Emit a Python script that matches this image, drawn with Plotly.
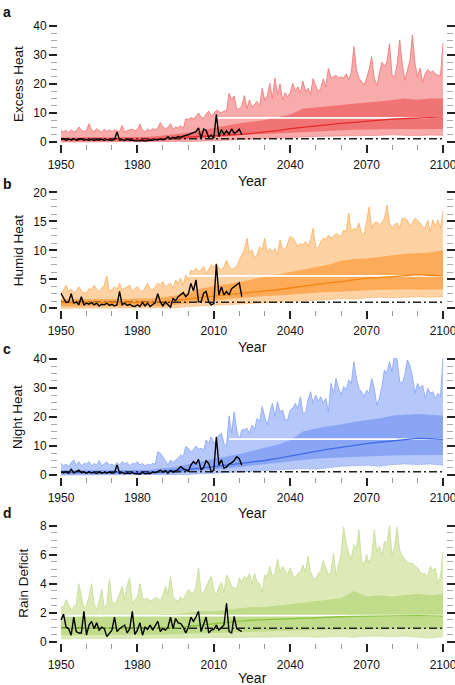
import plotly.graph_objects as go

# ---------------- data ----------------
YEARS = list(range(1950, 2101))
Y5 = list(range(1950, 2101, 5))
OBS_YEARS = list(range(1950, 2022))
XTICKS = [1950, 1980, 2010, 2040, 2070, 2100]

# Panel a : Excess Heat
A_HI = [3.8, 3.5, 4.0, 3.2, 4.2, 3.5, 3.8, 5.2, 4.0, 3.6,
        4.0, 6.3, 4.2, 3.5, 4.6, 3.8, 3.3, 4.5, 3.6, 4.2,
        3.5, 4.3, 3.8, 3.6, 5.7, 3.4, 4.0, 4.2, 4.4, 3.9,
        4.3, 6.1, 4.0, 3.6, 4.5, 3.8, 4.6, 4.2, 4.8, 6.7,
        5.2, 4.6, 5.0, 6.3, 4.4, 5.2, 4.8, 5.7, 4.6, 8.0,
        7.8, 8.4, 8.0, 8.8, 10.0, 8.6, 8.2, 9.6, 10.7, 9.0,
        9.8, 11.0, 10.4, 10.0, 10.8, 10.6, 16.8, 14.5, 15.9, 11.3,
        11.5, 12.5, 16.0, 11.5, 14.5, 12.0, 13.0, 14.0, 12.5, 18.5,
        14.4, 16.0, 20.2, 15.0, 22.0, 16.5, 20.0, 14.5, 17.0, 15.5,
        17.0, 20.2, 17.5, 19.0, 17.0, 21.0, 17.5, 18.5, 16.5, 21.9,
        19.5, 17.3, 18.5, 21.8, 19.0, 25.4, 22.0, 22.5, 23.0, 22.0,
        22.5, 22.0, 23.5, 21.5, 24.0, 32.9, 25.0, 22.0, 21.0, 19.7,
        22.0, 25.0, 29.4, 22.0, 19.5, 23.0, 27.5, 26.0, 27.7, 33.9,
        23.0, 22.4, 27.0, 35.2, 27.0, 21.3, 25.0, 28.0, 36.9, 27.0,
        22.4, 25.5, 20.5, 23.5, 25.0, 24.0, 24.5, 23.5, 23.0, 22.8,
        34.0]
A_Q75 = [1.6, 1.5, 1.7, 1.6, 1.6, 1.7, 1.8, 1.8, 2.2, 2.6, 3.2, 4.0, 4.8, 5.8, 6.5, 7.0,
         7.6, 8.5, 9.5, 11.5, 12.0, 12.5, 12.8, 13.2, 13.5, 14.0, 14.5, 15.0, 14.6, 15.0, 15.0]
A_Q25 = [0.2, 0.2, 0.2, 0.2, 0.2, 0.3, 0.3, 0.3, 0.5, 0.7, 1.0, 1.3, 1.6, 2.0, 2.3, 2.6,
         2.8, 3.0, 3.2, 3.5, 3.8, 4.0, 4.0, 4.2, 4.3, 4.4, 4.5, 4.5, 4.4, 4.5, 4.5]
A_LO = [0.0, 0.0, 0.0, 0.0, 0.0, 0.0, 0.0, 0.0, 0.0, 0.1, 0.2, 0.3, 0.5, 0.7, 0.8, 1.0,
        1.2, 1.4, 1.5, 1.8, 1.9, 2.0, 2.0, 2.2, 2.2, 2.3, 2.5, 2.3, 2.2, 2.4, 2.3]
A_MED = [0.9, 0.9, 0.9, 0.9, 0.9, 1.0, 1.0, 1.0, 1.2, 1.4, 1.6, 1.8, 2.0, 2.3, 2.6, 3.0,
         3.4, 3.9, 4.6, 5.1, 5.6, 6.0, 6.4, 6.8, 7.2, 7.5, 7.9, 8.1, 8.3, 8.4, 8.2]
A_OBS = [0.9, 1.1, 0.6, 1.0, 0.7, 1.2, 0.6, 0.9, 1.1, 0.5,
         0.9, 0.6, 1.0, 0.5, 0.8, 0.6, 1.0, 0.5, 0.9, 0.7,
         0.6, 0.9, 3.5, 0.6, 0.8, 0.5, 0.9, 0.6, 0.7, 0.4,
         0.3, 0.4, 0.6, 0.3, 0.5, 0.7, 0.6, 0.9, 0.7, 1.1,
         0.8, 1.0, 1.8, 1.0, 1.6, 1.4, 1.9, 1.6, 2.0, 2.2,
         2.5, 2.9, 3.2, 3.6, 4.9, 1.2, 4.5, 4.0, 1.6, 2.4,
         1.3, 9.5, 1.8, 4.3, 2.6, 3.8, 2.7, 4.5, 3.0, 3.5, 4.4, 2.5]
A_BASE = 1.1
A_WHITE = 8.3
A_WHITE_START = 2011

# Panel b : Humid Heat
B_HI = [2.3, 3.2, 4.0, 2.9, 3.3, 2.6, 3.0, 3.7, 3.0, 2.7,
        2.6, 3.4, 3.2, 4.0, 3.3, 2.9, 3.4, 4.0, 5.6, 2.9,
        3.2, 3.7, 3.3, 4.3, 3.2, 3.4, 3.7, 4.0, 2.9, 3.4,
        3.7, 3.0, 2.9, 3.6, 4.3, 3.3, 3.2, 3.7, 4.3, 4.0,
        4.6, 3.7, 4.0, 4.3, 3.4, 4.9, 4.3, 5.2, 4.0, 5.7,
        4.9, 6.6, 6.3, 6.9, 6.3, 6.6, 7.2, 6.0, 6.7, 7.5,
        7.1, 7.8, 6.9, 6.6, 7.2, 8.3, 7.2, 6.7, 6.9, 7.3,
        8.3, 9.2, 10.1, 12.1, 9.5, 10.1, 8.6, 9.2, 10.6, 10.1,
        12.1, 9.5, 10.3, 9.8, 10.3, 9.2, 11.8, 10.3, 10.1, 11.2,
        12.4, 12.1, 11.5, 10.6, 11.2, 10.9, 11.5, 10.6, 11.8, 13.8,
        10.6, 10.3, 11.5, 12.1, 11.8, 12.6, 12.1, 12.4, 12.9, 12.6,
        12.4, 13.5, 13.2, 16.4, 13.2, 13.8, 13.5, 14.7, 12.9, 12.6,
        15.2, 17.5, 13.8, 14.7, 14.9, 14.4, 14.9, 15.5, 17.8, 14.7,
        13.8, 14.4, 14.7, 13.8, 15.5, 15.5, 15.2, 14.1, 14.7, 15.5,
        15.2, 14.7, 14.1, 13.8, 15.2, 13.2, 15.2, 14.1, 15.2, 13.8,
        16.7]
B_Q75 = [1.6, 1.6, 1.5, 1.5, 1.6, 1.6, 1.7, 1.7, 1.9, 2.2, 2.7, 3.4, 3.8, 4.1, 4.5, 5.0,
         5.4, 5.8, 6.2, 6.6, 7.0, 7.5, 8.2, 8.5, 8.6, 8.9, 9.2, 9.4, 9.5, 9.6, 10.0]
B_Q25 = [0.3, 0.3, 0.3, 0.3, 0.3, 0.3, 0.3, 0.3, 0.4, 0.6, 0.8, 1.1, 1.3, 1.6, 1.8, 2.0,
         2.1, 2.2, 2.3, 2.5, 2.7, 2.8, 3.0, 3.0, 3.1, 3.2, 3.2, 3.3, 3.2, 3.3, 3.3]
B_LO = [0.0, 0.0, 0.0, 0.0, 0.0, 0.0, 0.0, 0.0, 0.05, 0.1, 0.3, 0.4, 0.6, 0.7, 0.8, 0.9,
        1.0, 1.0, 1.1, 1.2, 1.3, 1.5, 1.7, 1.6, 1.8, 1.9, 1.8, 1.9, 2.0, 1.9, 2.0]
B_MED = [1.0, 1.0, 0.9, 0.9, 1.0, 1.0, 1.0, 1.0, 1.1, 1.3, 1.6, 1.9, 2.1, 2.4, 2.6, 2.8,
         3.0, 3.2, 3.5, 3.8, 4.2, 4.4, 4.6, 4.9, 5.2, 5.3, 5.5, 5.6, 5.8, 5.7, 5.6]
B_OBS = [2.6, 1.7, 1.0, 1.1, 2.5, 0.9, 1.1, 0.6, 2.0, 0.6,
         0.9, 0.7, 1.0, 0.6, 0.9, 0.4, 0.7, 0.6, 0.9, 0.5,
         0.7, 0.4, 0.6, 2.9, 0.6, 0.9, 0.5, 0.7, 0.4, 0.3,
         0.6, 0.3, 1.0, 0.4, 0.9, 0.3, 0.7, 1.0, 2.5, 1.1,
         0.4, 1.1, 0.6, 0.2, 1.7, 1.3, 2.0, 2.3, 2.7, 2.0,
         2.5, 4.3, 3.0, 4.9, 1.1, 1.1, 2.6, 2.9, 1.1, 0.6,
         0.8, 7.6, 2.3, 3.7, 2.3, 2.9, 2.3, 3.4, 3.7, 4.0, 4.4, 2.0]
B_BASE = 1.05
B_WHITE = 5.6
B_WHITE_START = 2000

# Panel c : Night Heat
C_HI = [4.0, 3.1, 3.8, 2.9, 4.3, 5.2, 3.4, 4.6, 3.1, 4.0,
        3.8, 4.6, 3.1, 4.0, 3.4, 4.9, 3.1, 4.0, 4.6, 3.4,
        3.8, 3.1, 4.3, 3.4, 4.6, 3.8, 4.3, 3.1, 4.0, 3.8,
        4.6, 3.4, 4.0, 3.1, 3.8, 3.4, 4.0, 3.8, 8.0, 7.5,
        6.3, 4.9, 3.4, 5.2, 4.3, 5.2, 5.7, 6.9, 6.3, 9.8,
        9.2, 8.0, 8.6, 10.0, 8.9, 9.2, 8.6, 12.1, 10.9, 13.2,
        10.9, 12.1, 13.8, 14.4, 10.9, 10.0, 20.3, 14.4, 21.8, 15.5,
        12.1, 15.5, 15.7, 16.1, 14.4, 17.2, 15.7, 19.5, 18.4, 23.6,
        20.1, 17.2, 21.3, 24.7, 20.1, 25.3, 21.8, 22.4, 19.0, 19.0,
        22.4, 23.0, 24.7, 23.0, 27.0, 21.3, 21.3, 25.9, 28.7, 24.7,
        27.6, 25.3, 27.0, 24.7, 26.4, 21.8, 31.6, 28.2, 33.3, 29.9,
        27.6, 30.5, 29.3, 32.8, 31.6, 39.1, 33.3, 29.9, 28.7, 27.0,
        29.3, 28.2, 33.3, 29.9, 24.1, 26.4, 30.5, 36.2, 35.1, 39.1,
        35.6, 42.0, 39.7, 32.2, 31.6, 34.5, 39.7, 37.9, 33.9, 28.2,
        31.6, 29.9, 31.0, 26.4, 29.9, 28.2, 28.7, 26.4, 28.2, 27.0,
        40.2]
C_Q75 = [1.6, 1.6, 1.5, 1.6, 1.6, 1.7, 1.7, 1.8, 2.2, 2.8, 3.8, 4.6, 5.4, 6.3, 7.2, 8.3,
         9.5, 10.5, 12.0, 15.0, 16.0, 16.8, 17.5, 18.2, 19.0, 19.5, 20.5, 20.8, 21.0, 20.8, 20.5]
C_Q25 = [0.2, 0.2, 0.2, 0.2, 0.2, 0.2, 0.2, 0.2, 0.4, 0.6, 1.0, 1.4, 1.8, 2.3, 2.8, 3.3,
         3.8, 4.2, 4.6, 5.2, 5.6, 5.9, 6.1, 6.3, 6.5, 6.6, 6.7, 6.8, 6.9, 7.0, 6.9]
C_LO = [0.0, 0.0, 0.0, 0.0, 0.0, 0.0, 0.0, 0.0, 0.0, 0.1, 0.2, 0.4, 0.6, 0.8, 1.0, 1.3,
        1.6, 1.8, 2.0, 2.2, 2.0, 2.6, 3.0, 3.2, 3.4, 3.0, 3.6, 3.8, 3.6, 3.8, 3.4]
C_MED = [0.9, 0.9, 0.9, 0.9, 0.9, 1.0, 1.0, 1.0, 1.2, 1.5, 1.9, 2.4, 2.9, 3.4, 3.8, 4.4,
         5.0, 5.7, 6.5, 7.4, 8.2, 8.9, 9.5, 10.2, 10.8, 11.3, 11.8, 12.2, 12.6, 12.5, 12.3]
C_OBS = [1.0, 0.8, 1.1, 0.6, 2.0, 0.7, 1.2, 1.7, 0.8, 1.0,
         0.6, 1.1, 0.7, 0.9, 0.5, 1.0, 0.6, 0.9, 0.7, 1.0,
         0.6, 0.8, 3.5, 0.6, 0.9, 0.4, 0.7, 0.5, 0.8, 0.4,
         0.5, 0.3, 0.9, 0.4, 0.6, 0.5, 1.0, 0.8, 1.2, 1.7,
         1.0, 1.5, 0.6, 1.6, 1.0, 1.3, 2.0, 2.9, 2.2, 1.8,
         1.3, 3.4, 4.6, 3.8, 5.4, 1.7, 2.6, 4.9, 4.0, 1.1,
         1.6, 13.2, 3.4, 5.2, 2.3, 2.8, 3.8, 4.2, 5.0, 6.3, 5.6, 3.4]
C_BASE = 1.15
C_WHITE = 12.4
C_WHITE_START = 2016

# Panel d : Rain Deficit
D_HI = [2.4, 2.4, 2.9, 2.6, 2.2, 2.4, 2.6, 4.0, 3.1, 2.3,
        2.5, 3.1, 4.0, 2.6, 2.2, 2.8, 3.6, 2.3, 2.6, 4.3,
        2.8, 2.6, 2.8, 3.3, 3.8, 2.9, 3.9, 4.4, 2.6, 2.9,
        3.1, 4.0, 3.0, 2.9, 3.0, 2.8, 2.9, 3.0, 3.0, 2.8,
        3.2, 3.8, 3.3, 4.5, 3.1, 2.9, 2.8, 3.1, 2.9, 3.2,
        3.6, 3.4, 3.3, 3.8, 5.1, 3.4, 3.3, 3.8, 4.1, 4.5,
        3.6, 3.2, 3.8, 4.1, 3.4, 4.6, 4.3, 3.8, 3.7, 3.6,
        4.4, 4.1, 4.5, 4.3, 4.7, 4.0, 4.7, 4.1, 4.0, 3.4,
        4.6, 4.5, 5.2, 4.5, 4.7, 5.7, 4.8, 5.2, 4.9, 4.6,
        5.1, 4.6, 4.4, 4.7, 4.8, 5.3, 4.8, 5.9, 4.8, 4.4,
        4.3, 4.7, 4.9, 5.6, 5.1, 4.6, 4.8, 6.1, 4.5, 5.2,
        6.1, 7.9, 6.8, 6.1, 5.7, 6.7, 6.4, 7.7, 5.6, 5.3,
        6.0, 5.4, 5.9, 7.7, 6.2, 6.6, 5.9, 6.9, 6.8, 8.0,
        5.9, 6.6, 7.9, 6.3, 5.9, 5.7, 5.5, 5.4, 5.4, 5.2,
        5.1, 4.8, 4.7, 4.7, 4.5, 5.2, 4.9, 5.1, 4.0, 4.5,
        6.2]
D_Q75 = [1.7, 1.7, 1.8, 1.7, 1.8, 1.8, 1.8, 1.8, 1.9, 1.9, 2.0, 2.1, 2.1, 2.2, 2.3, 2.4,
         2.4, 2.5, 2.6, 2.7, 2.8, 2.9, 3.0, 3.5, 3.1, 3.2, 3.1, 3.2, 3.3, 3.2, 3.3]
D_Q25 = [0.45, 0.45, 0.45, 0.45, 0.45, 0.45, 0.5, 0.5, 0.5, 0.5, 0.55, 0.58, 0.6, 0.62, 0.65, 0.68,
         0.7, 0.72, 0.75, 0.78, 0.8, 0.82, 0.85, 0.87, 0.88, 0.9, 0.9, 0.9, 0.9, 0.9, 0.9]
D_LO = [0.2, 0.2, 0.2, 0.2, 0.2, 0.2, 0.2, 0.22, 0.22, 0.25, 0.25, 0.27, 0.28, 0.3, 0.3, 0.3,
        0.32, 0.33, 0.35, 0.35, 0.3, 0.35, 0.36, 0.3, 0.37, 0.38, 0.35, 0.38, 0.3, 0.25, 0.35]
D_MED = [0.92, 0.92, 0.92, 0.92, 0.92, 0.92, 0.93, 0.93, 0.94, 0.95, 1.05, 1.15, 1.25, 1.35, 1.42, 1.48,
         1.52, 1.56, 1.6, 1.63, 1.66, 1.69, 1.72, 1.74, 1.76, 1.78, 1.8, 1.8, 1.8, 1.78, 1.76]
D_OBS = [1.5, 1.9, 1.0, 0.9, 0.45, 1.7, 0.7, 0.6, 0.6, 2.1,
         0.45, 1.15, 1.4, 0.9, 1.3, 0.8, 1.0, 0.9, 0.35, 0.6,
         0.8, 1.7, 0.7, 0.9, 1.0, 1.15, 0.6, 0.9, 2.1, 0.5,
         0.8, 1.3, 0.45, 1.0, 0.85, 1.15, 0.8, 1.15, 1.4, 0.7,
         0.9, 0.8, 1.0, 1.7, 0.9, 1.6, 1.3, 1.25, 1.0, 0.6,
         1.0, 1.7, 1.4, 1.7, 2.1, 0.7, 1.25, 1.7, 0.6, 0.8,
         0.85, 1.15, 0.8, 1.0, 1.15, 2.65, 0.7, 0.6, 1.75, 0.9, 0.8, 0.7]
D_BASE = 0.92
D_WHITE = 1.8
D_WHITE_START = 1950

TITLES = ["Excess Heat", "Humid Heat", "Night Heat", "Rain Deficit"]
LETTERS = ["a", "b", "c", "d"]

# ---------------- styling / layout ----------------
W, H = 455, 685
FONT = "Liberation Sans, Arial, Helvetica, sans-serif"

panels = [
    dict(hi=A_HI, q75=A_Q75, q25=A_Q25, lo=A_LO, med=A_MED, obs=A_OBS, base=A_BASE,
         white=A_WHITE, wstart=A_WHITE_START, top=40, major=10, minor=2.5,
         y0=142.0, ytop=26.0, tx=18, letter_y=12, year_y=181,
         light="#f8abab", mid="#f17474", edge="#f27c7c", line="#e62a2a"),
    dict(hi=B_HI, q75=B_Q75, q25=B_Q25, lo=B_LO, med=B_MED, obs=B_OBS, base=B_BASE,
         white=B_WHITE, wstart=B_WHITE_START, top=20, major=5, minor=1.25,
         y0=308.3, ytop=192.3, tx=18, letter_y=184, year_y=347,
         light="#fed2a3", mid="#fdab58", edge="#fcb468", line="#f58410"),
    dict(hi=C_HI, q75=C_Q75, q25=C_Q25, lo=C_LO, med=C_MED, obs=C_OBS, base=C_BASE,
         white=C_WHITE, wstart=C_WHITE_START, top=40, major=10, minor=2.5,
         y0=475.0, ytop=359.0, tx=17, letter_y=349, year_y=513,
         light="#b6c8fa", mid="#8aa5f4", edge="#8ea9f6", line="#3f6be6"),
    dict(hi=D_HI, q75=D_Q75, q25=D_Q25, lo=D_LO, med=D_MED, obs=D_OBS, base=D_BASE,
         white=D_WHITE, wstart=D_WHITE_START, top=8, major=2, minor=0.5,
         y0=641.7, ytop=525.7, tx=24, letter_y=513, year_y=678,
         light="#dde9b7", mid="#c0dc8a", edge="#c6df96", line="#8cc63f"),
]

X_LEFT_PX, X_RIGHT_PX = 58.0, 446.0
X1950_PX, X2100_PX = 61.0, 443.0
ppy = (X2100_PX - X1950_PX) / (YEARS[-1] - YEARS[0])
xr = [YEARS[0] - (X1950_PX - X_LEFT_PX) / ppy, YEARS[-1] + (X_RIGHT_PX - X2100_PX) / ppy]

fig = go.Figure()
annotations = []
layout_axes = {}

for i, p in enumerate(panels):
    n = "" if i == 0 else str(i + 1)
    xa, ya = "x" + n, "y" + n
    ya_r = "y" + str(i + 5)

    ppu = (p["y0"] - p["ytop"]) / p["top"]
    gap_b, gap_t = 1.5, 1.0
    yr = [-gap_b / ppu, p["top"] + gap_t / ppu]
    dom = [1 - (p["y0"] + gap_b) / H, 1 - (p["ytop"] - gap_t) / H]

    # outer band
    fig.add_trace(go.Scatter(x=Y5, y=p["lo"], mode="lines", line=dict(color=p["edge"], width=0.6),
                             xaxis=xa, yaxis=ya, hoverinfo="skip"))
    fig.add_trace(go.Scatter(x=YEARS, y=p["hi"], mode="lines", fill="tonexty", fillcolor=p["light"],
                             line=dict(color=p["edge"], width=0.9), xaxis=xa, yaxis=ya, hoverinfo="skip"))
    # inner band
    fig.add_trace(go.Scatter(x=Y5, y=p["q25"], mode="lines", line=dict(color=p["mid"], width=0),
                             xaxis=xa, yaxis=ya, hoverinfo="skip"))
    fig.add_trace(go.Scatter(x=Y5, y=p["q75"], mode="lines", fill="tonexty", fillcolor=p["mid"],
                             line=dict(color=p["mid"], width=0), xaxis=xa, yaxis=ya, hoverinfo="skip"))
    # baseline dash-dot
    fig.add_trace(go.Scatter(x=[YEARS[0], YEARS[-1]], y=[p["base"], p["base"]], mode="lines",
                             line=dict(color="#222222", width=1.5, dash="8px,3px,2px,3px"),
                             xaxis=xa, yaxis=ya, hoverinfo="skip"))
    # white level line
    fig.add_trace(go.Scatter(x=[p["wstart"], YEARS[-1]], y=[p["white"], p["white"]], mode="lines",
                             line=dict(color="white", width=1.8), xaxis=xa, yaxis=ya, hoverinfo="skip"))
    # ensemble median
    fig.add_trace(go.Scatter(x=Y5, y=p["med"], mode="lines", line=dict(color=p["line"], width=1.3),
                             xaxis=xa, yaxis=ya, hoverinfo="skip"))
    # observations
    fig.add_trace(go.Scatter(x=OBS_YEARS, y=p["obs"], mode="lines", line=dict(color="black", width=1.4),
                             xaxis=xa, yaxis=ya, hoverinfo="skip"))
    # transparent copy of the baseline on the right-hand tick axis so that axis is drawn
    fig.add_trace(go.Scatter(x=[YEARS[0], YEARS[-1]], y=[p["base"], p["base"]], mode="lines",
                             opacity=0, xaxis=xa, yaxis=ya_r))

    layout_axes["xaxis" + n] = dict(
        domain=[X_LEFT_PX / W, X_RIGHT_PX / W], range=xr, anchor=ya, automargin=False,
        tickvals=XTICKS, ticks="outside", ticklen=8, tickwidth=1.6, tickcolor="#222",
        showline=False, showgrid=False, zeroline=False, ticklabeloverflow="allow",
        ticklabelstandoff=2,
        tickfont=dict(family=FONT, size=12, color="#111"),
        minor=dict(tick0=1950, dtick=10, ticks="outside", ticklen=5, tickwidth=1.3,
                   tickcolor="#999", showgrid=False),
    )
    ycommon = dict(
        range=yr, automargin=False,
        tick0=0, dtick=p["major"], ticks="outside", ticklen=8, tickwidth=1.6, tickcolor="#222",
        showline=False, showgrid=False, zeroline=False,
        tickfont=dict(family=FONT, size=12, color="#111"),
        minor=dict(tick0=0, dtick=p["minor"], ticks="outside", ticklen=6, tickwidth=1.3,
                   tickcolor="#aaa", showgrid=False),
    )
    layout_axes["yaxis" + n] = dict(domain=dom, anchor=xa, ticklabeloverflow="allow", **ycommon)
    layout_axes["yaxis" + str(i + 5)] = dict(overlaying=ya, side="right", showticklabels=False, **ycommon)

    annotations.append(dict(text=TITLES[i], x=p["tx"] / W, y=1 - ((p["y0"] + p["ytop"]) / 2) / H,
                            xref="paper", yref="paper", showarrow=False, textangle=-90,
                            xanchor="center", yanchor="middle",
                            font=dict(family=FONT, size=13.5, color="#111")))
    annotations.append(dict(text="<b>" + LETTERS[i] + "</b>", x=0.5 / W, y=1 - p["letter_y"] / H,
                            xref="paper", yref="paper", showarrow=False,
                            xanchor="left", yanchor="middle",
                            font=dict(family=FONT, size=14, color="#111")))
    annotations.append(dict(text="Year", x=((X1950_PX + X2100_PX) / 2) / W, y=1 - p["year_y"] / H,
                            xref="paper", yref="paper", showarrow=False,
                            xanchor="center", yanchor="middle",
                            font=dict(family=FONT, size=14, color="#111")))

fig.update_layout(
    width=W, height=H, margin=dict(l=0, r=0, t=0, b=0, autoexpand=False),
    paper_bgcolor="white", plot_bgcolor="white", showlegend=False, hovermode=False,
    annotations=annotations, **layout_axes,
)

fig.write_html(
    "out.html",
    config={"displayModeBar": False},
    post_script="document.body.style.margin='0';document.body.style.overflow='hidden';",
)
